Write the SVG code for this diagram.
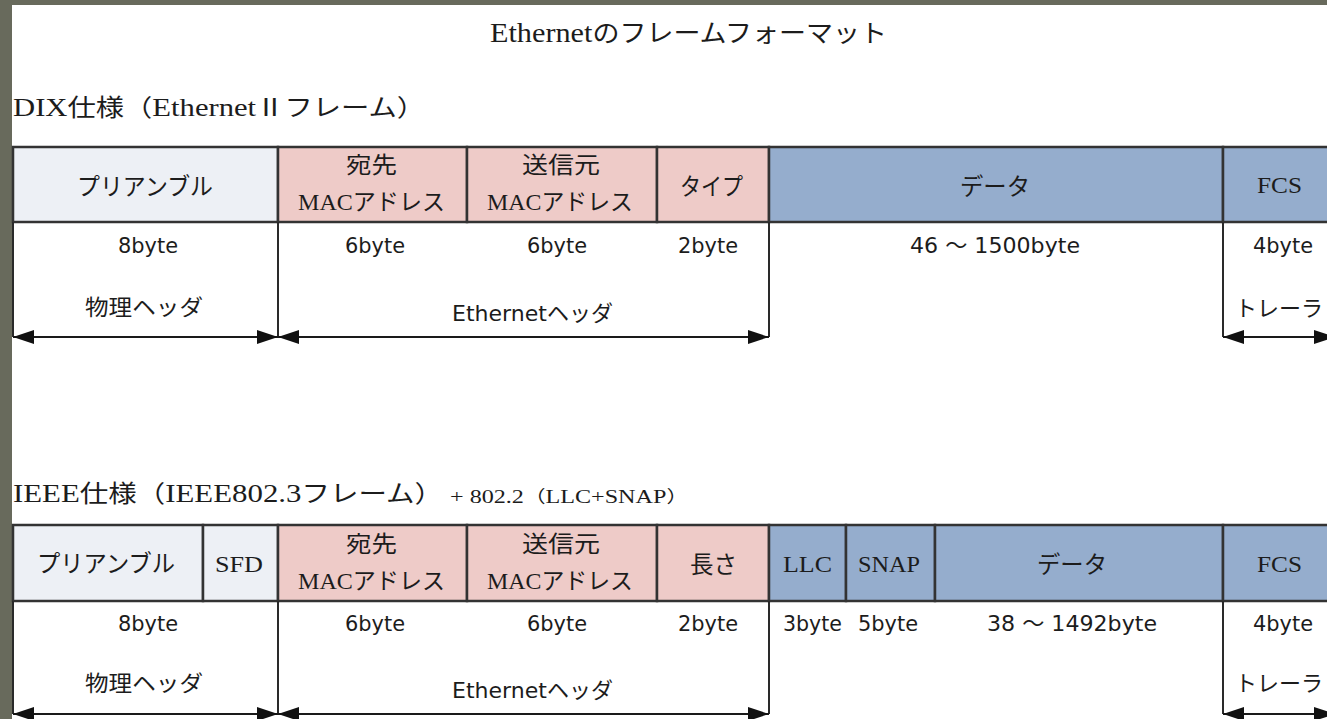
<svg xmlns="http://www.w3.org/2000/svg" width="1327" height="719" viewBox="0 0 1327 719">
  <style>
    .ser { font-family: "Liberation Serif", "Noto Sans CJK JP", serif; fill: #1c1c1c; }
    .jp { font-family: "Noto Sans CJK JP", sans-serif; fill: #1c1c1c; }
    .lbl { font-family: "DejaVu Sans", "Noto Sans CJK JP", sans-serif; font-size: 22px; fill: #1c1c1c; }
    .cell { stroke: #333; stroke-width: 2.5; }
    .pre { fill: #edf0f5; }
    .hdr { fill: #eecbc8; }
    .pay { fill: #95adcd; }
    .tick { stroke: #2a2a2a; stroke-width: 2; fill: none; }
    .dim { stroke: #1a1a1a; stroke-width: 2.2; fill: none; marker-start: url(#ah); marker-end: url(#ah); }
  </style>
  <defs>
    <marker id="ah" markerUnits="userSpaceOnUse" markerWidth="21" markerHeight="14" refX="21" refY="7" orient="auto-start-reverse">
      <path d="M0,0 L21,7 L0,14 z" fill="#111"/>
    </marker>
  </defs>

  <!-- page frame -->
  <rect x="0" y="0" width="1327" height="719" fill="#686a5c"/>
  <rect x="12" y="5" width="1315" height="714" fill="#ffffff"/>

  <!-- titles -->
  <text id="title" class="ser" x="490" y="42" font-size="28" textLength="397" lengthAdjust="spacingAndGlyphs">Ethernet<tspan class="jp" font-size="25">のフレームフォーマット</tspan></text>
  <text id="dix-title" class="ser" x="13" y="116" font-size="26" textLength="412" lengthAdjust="spacingAndGlyphs">DIX<tspan class="jp" font-size="24">仕様（</tspan>Ethernet<tspan class="jp" font-size="24">Ⅱフレーム）</tspan></text>
  <text id="ieee-title" class="ser" x="13" y="502" font-size="26" textLength="430" lengthAdjust="spacingAndGlyphs">IEEE<tspan class="jp" font-size="24">仕様（</tspan>IEEE802.3<tspan class="jp" font-size="24">フレーム）</tspan></text>
  <text id="ieee-sub" class="ser" x="450" y="503" font-size="19" textLength="238" lengthAdjust="spacingAndGlyphs">+ 802.2<tspan class="jp" font-size="17">（</tspan>LLC+SNAP<tspan class="jp" font-size="17">）</tspan></text>

  <!-- ===== DIX frame ===== -->
  <g id="dix-preamble">
    <rect class="cell pre" x="13" y="147" width="265" height="75"/>
    <text class="jp" x="77" y="195" font-size="24" textLength="136" lengthAdjust="spacingAndGlyphs">プリアンブル</text>
  </g>
  <g id="dix-dst">
    <rect class="cell hdr" x="278" y="147" width="189" height="75"/>
    <text class="jp" x="346" y="173" font-size="23" textLength="51" lengthAdjust="spacingAndGlyphs">宛先</text>
    <text class="ser" x="298" y="210" font-size="24" textLength="147" lengthAdjust="spacingAndGlyphs">MAC<tspan class="jp" font-size="23">アドレス</tspan></text>
  </g>
  <g id="dix-src">
    <rect class="cell hdr" x="467" y="147" width="190" height="75"/>
    <text class="jp" x="522" y="173" font-size="23" textLength="78" lengthAdjust="spacingAndGlyphs">送信元</text>
    <text class="ser" x="487" y="210" font-size="24" textLength="146" lengthAdjust="spacingAndGlyphs">MAC<tspan class="jp" font-size="23">アドレス</tspan></text>
  </g>
  <g id="dix-type">
    <rect class="cell hdr" x="657" y="147" width="112" height="75"/>
    <text class="jp" x="680" y="195" font-size="24" textLength="63" lengthAdjust="spacingAndGlyphs">タイプ</text>
  </g>
  <g id="dix-data">
    <rect class="cell pay" x="769" y="147" width="454" height="75"/>
    <text class="jp" x="960" y="195" font-size="24" textLength="70" lengthAdjust="spacingAndGlyphs">データ</text>
  </g>
  <g id="dix-fcs">
    <rect class="cell pay" x="1223" y="147" width="120" height="75"/>
    <text class="ser" x="1257" y="193" font-size="23" textLength="45" lengthAdjust="spacingAndGlyphs">FCS</text>
  </g>

  <!-- DIX sizes and ranges -->
  <g id="dix-sizes">
    <text class="lbl" x="118" y="253" textLength="60" lengthAdjust="spacingAndGlyphs">8byte</text>
    <text class="lbl" x="345" y="253" textLength="60" lengthAdjust="spacingAndGlyphs">6byte</text>
    <text class="lbl" x="527" y="253" textLength="60" lengthAdjust="spacingAndGlyphs">6byte</text>
    <text class="lbl" x="678" y="253" textLength="60" lengthAdjust="spacingAndGlyphs">2byte</text>
    <text class="lbl" x="910" y="253" textLength="170" lengthAdjust="spacingAndGlyphs">46 ～ 1500byte</text>
    <text class="lbl" x="1253" y="253" textLength="60" lengthAdjust="spacingAndGlyphs">4byte</text>
  </g>
  <g id="dix-phys"><text class="lbl" x="85" y="315" font-size="23" textLength="118" lengthAdjust="spacingAndGlyphs">物理ヘッダ</text></g>
  <g id="dix-eth"><text class="lbl" x="452" y="321" textLength="161" lengthAdjust="spacingAndGlyphs">Ethernetヘッダ</text></g>
  <g id="dix-trailer"><text class="lbl" x="1235" y="316" font-size="23" textLength="88" lengthAdjust="spacingAndGlyphs">トレーラ</text></g>

  <!-- ===== IEEE 802.3 frame ===== -->
  <g id="ieee-preamble">
    <rect class="cell pre" x="13" y="525" width="190" height="76"/>
    <text class="jp" x="37" y="572" font-size="24" textLength="138" lengthAdjust="spacingAndGlyphs">プリアンブル</text>
  </g>
  <g id="ieee-sfd">
    <rect class="cell pre" x="203" y="525" width="75" height="76"/>
    <text class="ser" x="215" y="572" font-size="23" textLength="48" lengthAdjust="spacingAndGlyphs">SFD</text>
  </g>
  <g id="ieee-dst">
    <rect class="cell hdr" x="278" y="525" width="189" height="76"/>
    <text class="jp" x="346" y="552" font-size="23" textLength="51" lengthAdjust="spacingAndGlyphs">宛先</text>
    <text class="ser" x="298" y="589" font-size="24" textLength="147" lengthAdjust="spacingAndGlyphs">MAC<tspan class="jp" font-size="23">アドレス</tspan></text>
  </g>
  <g id="ieee-src">
    <rect class="cell hdr" x="467" y="525" width="190" height="76"/>
    <text class="jp" x="522" y="552" font-size="23" textLength="78" lengthAdjust="spacingAndGlyphs">送信元</text>
    <text class="ser" x="487" y="589" font-size="24" textLength="146" lengthAdjust="spacingAndGlyphs">MAC<tspan class="jp" font-size="23">アドレス</tspan></text>
  </g>
  <g id="ieee-len">
    <rect class="cell hdr" x="657" y="525" width="112" height="76"/>
    <text class="jp" x="690" y="573" font-size="24" textLength="47" lengthAdjust="spacingAndGlyphs">長さ</text>
  </g>
  <g id="ieee-llc">
    <rect class="cell pay" x="769" y="525" width="77" height="76"/>
    <text class="ser" x="783" y="572" font-size="23" textLength="49" lengthAdjust="spacingAndGlyphs">LLC</text>
  </g>
  <g id="ieee-snap">
    <rect class="cell pay" x="846" y="525" width="89" height="76"/>
    <text class="ser" x="858" y="572" font-size="23" textLength="62" lengthAdjust="spacingAndGlyphs">SNAP</text>
  </g>
  <g id="ieee-data">
    <rect class="cell pay" x="935" y="525" width="288" height="76"/>
    <text class="jp" x="1037" y="573" font-size="24" textLength="70" lengthAdjust="spacingAndGlyphs">データ</text>
  </g>
  <g id="ieee-fcs">
    <rect class="cell pay" x="1223" y="525" width="120" height="76"/>
    <text class="ser" x="1257" y="572" font-size="23" textLength="45" lengthAdjust="spacingAndGlyphs">FCS</text>
  </g>

  <!-- IEEE sizes and ranges -->
  <g id="ieee-sizes">
    <text class="lbl" x="118" y="631" textLength="60" lengthAdjust="spacingAndGlyphs">8byte</text>
    <text class="lbl" x="345" y="631" textLength="60" lengthAdjust="spacingAndGlyphs">6byte</text>
    <text class="lbl" x="527" y="631" textLength="60" lengthAdjust="spacingAndGlyphs">6byte</text>
    <text class="lbl" x="678" y="631" textLength="60" lengthAdjust="spacingAndGlyphs">2byte</text>
    <text class="lbl" x="783" y="631" textLength="59" lengthAdjust="spacingAndGlyphs">3byte</text>
    <text class="lbl" x="858" y="631" textLength="60" lengthAdjust="spacingAndGlyphs">5byte</text>
    <text class="lbl" x="987" y="631" textLength="170" lengthAdjust="spacingAndGlyphs">38 ～ 1492byte</text>
    <text class="lbl" x="1253" y="631" textLength="60" lengthAdjust="spacingAndGlyphs">4byte</text>
  </g>
  <g id="ieee-phys"><text class="lbl" x="85" y="691" font-size="23" textLength="118" lengthAdjust="spacingAndGlyphs">物理ヘッダ</text></g>
  <g id="ieee-eth"><text class="lbl" x="452" y="698" textLength="161" lengthAdjust="spacingAndGlyphs">Ethernetヘッダ</text></g>
  <g id="ieee-trailer"><text class="lbl" x="1235" y="691" font-size="23" textLength="88" lengthAdjust="spacingAndGlyphs">トレーラ</text></g>

  <!-- range brackets and dimension arrows -->
  <g id="connectors">
    <path class="tick" d="M13,222 V337 M278,222 V337 M769,222 V337 M1223,222 V337"/>
    <line class="dim" x1="13" y1="337" x2="278" y2="337"/>
    <line class="dim" x1="278" y1="337" x2="769" y2="337"/>
    <line class="dim" x1="1223" y1="337" x2="1335" y2="337"/>

    <path class="tick" d="M13,601 V714 M278,601 V714 M769,601 V714 M1223,601 V714"/>
    <line class="dim" x1="13" y1="714" x2="278" y2="714"/>
    <line class="dim" x1="278" y1="714" x2="769" y2="714"/>
    <line class="dim" x1="1223" y1="714" x2="1335" y2="714"/>
  </g>
</svg>
